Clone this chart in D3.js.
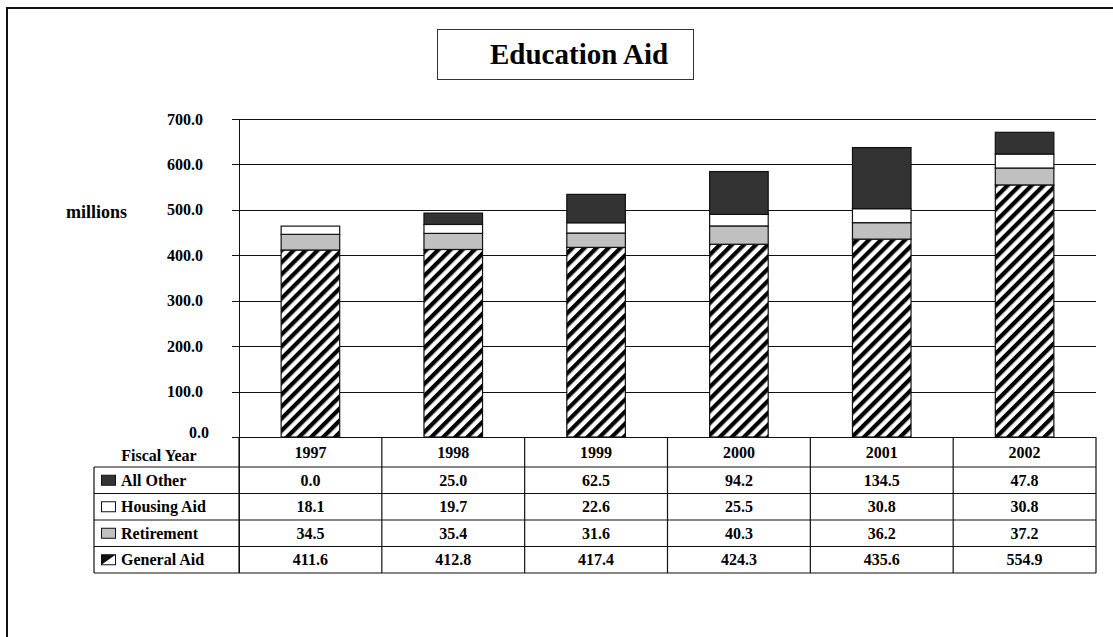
<!DOCTYPE html>
<html>
<head>
<meta charset="utf-8">
<script src="https://cdn.jsdelivr.net/npm/d3@7"></script>
<style>
  body { margin: 0; background: #fff; }
  svg text { font-family: "Liberation Serif", "Times New Roman", serif; font-weight: bold; fill: #000; }
</style>
</head>
<body>
<div id="chart"></div>
<script>
// data
const years = ["1997", "1998", "1999", "2000", "2001", "2002"];
const generalAid = [411.6, 412.8, 417.4, 424.3, 435.6, 554.9];
const retirement = [34.5, 35.4, 31.6, 40.3, 36.2, 37.2];
const housingAid = [18.1, 19.7, 22.6, 25.5, 30.8, 30.8];
const allOther = [0.0, 25.0, 62.5, 94.2, 134.5, 47.8];
const yTicks = [0, 100, 200, 300, 400, 500, 600, 700];

// stacking order bottom -> top, table rows are listed top -> bottom
const seriesKeys = ["General Aid", "Retirement", "Housing Aid", "All Other"];
const seriesValues = {
  "General Aid": generalAid,
  "Retirement": retirement,
  "Housing Aid": housingAid,
  "All Other": allOther
};
const tableRows = ["All Other", "Housing Aid", "Retirement", "General Aid"];

const fills = {
  "General Aid": "url(#hatch)",
  "Retirement": "#c0c0c0",
  "Housing Aid": "#ffffff",
  "All Other": "#333333"
};

const W = 1113, H = 637;
const plot = { left: 239, right: 1096, top: 119, bottom: 437 };
const table = { left: 94, header: 467, bottom: 573 };
const fontSize = 16;

const svg = d3.select("#chart").append("svg")
  .attr("width", W)
  .attr("height", H);

const defs = svg.append("defs");
const hatch = defs.append("pattern")
  .attr("id", "hatch")
  .attr("patternUnits", "userSpaceOnUse")
  .attr("width", 8.5)
  .attr("height", 8.5)
  .attr("patternTransform", "rotate(45)");
hatch.append("rect").attr("width", 8.5).attr("height", 8.5).attr("fill", "#fff");
hatch.append("rect").attr("width", 4.2).attr("height", 8.5).attr("fill", "#000");

// outer frame (runs off the right and bottom edges)
svg.append("rect")
  .attr("x", 7).attr("y", 8)
  .attr("width", W + 20).attr("height", H + 20)
  .attr("fill", "none")
  .attr("stroke", "#111")
  .attr("stroke-width", 2);

// title box
svg.append("rect")
  .attr("x", 437.5).attr("y", 29.5)
  .attr("width", 256).attr("height", 50)
  .attr("fill", "#fff")
  .attr("stroke", "#333")
  .attr("stroke-width", 1);
svg.append("text")
  .attr("x", 490).attr("y", 64)
  .attr("font-size", 29)
  .text("Education Aid");

const x = d3.scaleBand().domain(years).range([plot.left, plot.right]);
const y = d3.scaleLinear().domain([0, 700]).range([plot.bottom, plot.top]);
const row = d3.scaleBand().domain(tableRows).range([table.header, table.bottom]);

// gridlines + ticks
svg.append("g")
  .selectAll("line")
  .data(yTicks)
  .join("line")
  .attr("x1", plot.left - 7)
  .attr("x2", plot.right)
  .attr("y1", (d) => Math.round(y(d)) + 0.5)
  .attr("y2", (d) => Math.round(y(d)) + 0.5)
  .attr("stroke", "#111")
  .attr("stroke-width", 1.2);

svg.append("line")
  .attr("x1", plot.left + 0.5).attr("x2", plot.left + 0.5)
  .attr("y1", plot.top).attr("y2", table.bottom)
  .attr("stroke", "#111");

svg.append("g")
  .selectAll("text")
  .data(yTicks)
  .join("text")
  .attr("x", (d) => (d === 0 ? 209 : 203))
  .attr("y", (d) => y(d) + (d === 0 ? -5 : 0))
  .attr("dy", "0.35em")
  .attr("text-anchor", "end")
  .attr("font-size", fontSize)
  .text((d) => d3.format(".1f")(d));

svg.append("text")
  .attr("x", 66).attr("y", 212)
  .attr("dy", "0.35em")
  .attr("font-size", 18)
  .text("millions");

// stacked bars
const stackData = years.map((yr, i) => {
  const o = { year: yr };
  seriesKeys.forEach((k) => { o[k] = seriesValues[k][i]; });
  return o;
});
const stacked = d3.stack().keys(seriesKeys)(stackData);
const barW = x.bandwidth() * 0.41;

svg.append("g")
  .selectAll("g")
  .data(stacked)
  .join("g")
  .attr("fill", (s) => fills[s.key])
  .selectAll("rect")
  .data((s) => s.filter((d) => d[1] - d[0] > 0))
  .join("rect")
  .attr("x", (d) => x(d.data.year) + (x.bandwidth() - barW) / 2)
  .attr("y", (d) => y(d[1]))
  .attr("width", barW)
  .attr("height", (d) => y(d[0]) - y(d[1]))
  .attr("stroke", "#111")
  .attr("stroke-width", 1.2);

// data table
const grid = svg.append("g").attr("stroke", "#111").attr("stroke-width", 1.2);
grid.selectAll(".hline")
  .data(tableRows.map((r) => row(r)).concat([table.bottom]))
  .join("line")
  .attr("x1", table.left).attr("x2", plot.right)
  .attr("y1", (d) => d).attr("y2", (d) => d);
grid.selectAll(".vline")
  .data(years.map((yr) => x(yr)).concat([plot.right]))
  .join("line")
  .attr("x1", (d) => d).attr("x2", (d) => d)
  .attr("y1", plot.bottom).attr("y2", table.bottom);
grid.append("line")
  .attr("x1", table.left).attr("x2", table.left)
  .attr("y1", table.header).attr("y2", table.bottom);

svg.append("text")
  .attr("x", 159).attr("y", (plot.bottom + table.header) / 2 + 3)
  .attr("dy", "0.35em")
  .attr("text-anchor", "middle")
  .attr("font-size", fontSize)
  .text("Fiscal Year");

svg.append("g")
  .selectAll("text")
  .data(years)
  .join("text")
  .attr("x", (d) => x(d) + x.bandwidth() / 2)
  .attr("y", (plot.bottom + table.header) / 2)
  .attr("dy", "0.35em")
  .attr("text-anchor", "middle")
  .attr("font-size", fontSize)
  .text((d) => d);

const rowG = svg.append("g")
  .selectAll("g")
  .data(tableRows)
  .join("g")
  .attr("transform", (r) => `translate(0,${row(r) + row.bandwidth() / 2})`);

rowG.append("rect")
  .attr("x", 101.5).attr("y", -5)
  .attr("width", 14).attr("height", 10)
  .attr("fill", (r) => (r === "General Aid" ? "#fff" : fills[r]))
  .attr("stroke", "#111");
rowG.filter((r) => r === "General Aid")
  .append("path")
  .attr("d", "M101.5,5 L101.5,-5 L115.5,-5 Z")
  .attr("fill", "#111");

rowG.append("text")
  .attr("x", 121)
  .attr("dy", "0.35em")
  .attr("font-size", fontSize)
  .text((r) => r);

rowG.selectAll(".val")
  .data((r) => seriesValues[r].map((v, i) => ({ v, yr: years[i] })))
  .join("text")
  .attr("class", "val")
  .attr("x", (d) => x(d.yr) + x.bandwidth() / 2)
  .attr("dy", "0.35em")
  .attr("text-anchor", "middle")
  .attr("font-size", fontSize)
  .text((d) => d3.format(".1f")(d.v));
</script>
</body>
</html>
